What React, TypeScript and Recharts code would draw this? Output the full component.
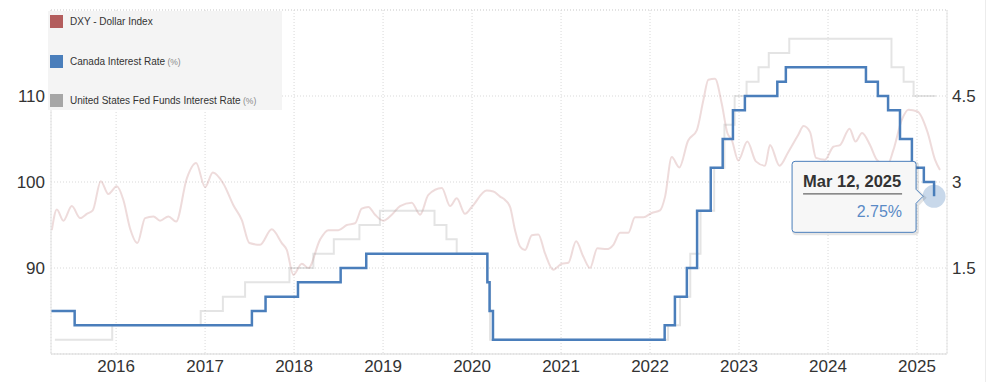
import React from 'react';
import { LineChart, Line, XAxis, YAxis, CartesianGrid, ReferenceLine } from 'recharts';

// ---------- data ----------
const xTicks = [2016, 2017, 2018, 2019, 2020, 2021, 2022, 2023, 2024, 2025];
const leftTicks = [90, 100, 110];
const rightTicks = [1.5, 3, 4.5];

const seriesNames = ['DXY - Dollar Index', 'Canada Interest Rate', 'United States Fed Funds Interest Rate'];
const seriesUnits = ['', '(%)', '(%)'];
const seriesColors = ['#b35d5d', '#4a7ebb', '#a6a6a6'];

// DXY (decimal years)
const dxyYears = [
  2015.278, 2015.334, 2015.408, 2015.502, 2015.596, 2015.671, 2015.738, 2015.828, 2015.913,
  2016.008, 2016.082, 2016.157, 2016.239, 2016.326, 2016.419, 2016.494, 2016.588, 2016.674, 2016.794, 2016.899,
  2017.0, 2017.087, 2017.206, 2017.318, 2017.412, 2017.498, 2017.618, 2017.749, 2017.862, 2017.918, 2017.992,
  2018.087, 2018.161, 2018.292, 2018.385, 2018.498, 2018.592, 2018.685, 2018.76, 2018.835, 2018.91,
  2019.003, 2019.098, 2019.191, 2019.322, 2019.416, 2019.509, 2019.66, 2019.753, 2019.828, 2019.921, 2019.997,
  2020.165, 2020.239, 2020.315, 2020.371, 2020.427, 2020.483, 2020.539, 2020.596, 2020.671, 2020.745, 2020.82, 2020.913,
  2021.008, 2021.082, 2021.169, 2021.251, 2021.326, 2021.408, 2021.513, 2021.588, 2021.663, 2021.756, 2021.831, 2021.925,
  2022.019, 2022.112, 2022.169, 2022.244, 2022.329, 2022.427, 2022.525, 2022.599, 2022.655, 2022.73, 2022.806, 2022.869, 2022.918, 2022.992,
  2023.093, 2023.189, 2023.292, 2023.348, 2023.455, 2023.554, 2023.666, 2023.725, 2023.798, 2023.865, 2023.966,
  2024.06, 2024.135, 2024.242, 2024.309, 2024.382, 2024.472, 2024.547, 2024.663, 2024.734, 2024.828, 2024.904,
  2025.006, 2025.118, 2025.202, 2025.258,
];
const dxyValues = [
  94.4, 96.8, 95.5, 97.2, 95.8, 96.3, 96.7, 100.1, 98.6,
  99.5, 97.9, 94.6, 92.9, 95.8, 96.0, 95.5, 96.0, 95.4, 100.4, 102.2,
  99.4, 101.1, 99.8, 97.3, 95.6, 92.9, 92.7, 94.5, 92.9, 92.1, 89.2,
  90.5, 90.0, 93.3, 94.4, 94.4, 95.0, 95.2, 96.9, 97.1, 96.2,
  95.5, 96.2, 97.2, 97.6, 96.2, 98.5, 99.3, 97.2, 98.1, 96.3, 97.1,
  99.0, 98.9, 98.3, 97.9, 97.1, 94.4, 92.5, 92.1, 93.8, 93.9, 91.7, 89.8,
  90.5, 90.6, 93.1, 91.3, 90.0, 92.3, 92.2, 92.7, 94.1, 94.1, 95.9, 95.9,
  96.4, 96.7, 98.3, 102.9, 101.7, 104.8, 106.0, 109.5, 111.9, 112.0, 109.1, 105.7, 104.9, 102.5,
  104.7, 102.4, 101.9, 104.3, 101.9, 103.5, 105.5, 106.5, 105.8, 102.8, 102.6,
  104.1, 104.3, 106.2, 104.7, 105.7, 104.3, 102.6, 101.9, 103.7, 107.2, 108.4,
  108.2, 105.8, 102.6, 101.4,
];

// Bank of Canada overnight rate decisions
const canadaDates = [
  '2015-04-09', '2015-07-15', '2017-07-12', '2017-09-06', '2018-01-17', '2018-07-11', '2018-10-24',
  '2020-03-04', '2020-03-13', '2020-03-27', '2022-03-02', '2022-04-13', '2022-06-01', '2022-07-13',
  '2022-09-07', '2022-10-26', '2022-12-07', '2023-01-25', '2023-06-07', '2023-07-12', '2024-06-05',
  '2024-07-24', '2024-09-04', '2024-10-23', '2024-12-11', '2025-01-29', '2025-03-12',
];
const canadaRates = [
  0.75, 0.5, 0.75, 1.0, 1.25, 1.5, 1.75,
  1.25, 0.75, 0.25, 0.5, 1.0, 1.5, 2.5,
  3.25, 3.75, 4.25, 4.5, 4.75, 5.0, 4.75,
  4.5, 4.25, 3.75, 3.25, 3.0, 2.75,
];

// US Fed funds (upper bound) decisions
const usDates = [
  '2015-04-25', '2015-12-16', '2016-12-14', '2017-03-15', '2017-06-14', '2017-12-13', '2018-03-21',
  '2018-06-13', '2018-09-26', '2018-12-19', '2019-07-31', '2019-09-18', '2019-10-30', '2020-03-03',
  '2020-03-15', '2022-03-16', '2022-05-04', '2022-06-15', '2022-07-27', '2022-09-21', '2022-11-02',
  '2022-12-14', '2023-02-01', '2023-03-22', '2023-05-03', '2023-07-26', '2024-09-18', '2024-11-07',
  '2024-12-18', '2025-03-19',
];
const usRates = [
  0.25, 0.5, 0.75, 1.0, 1.25, 1.5, 1.75,
  2.0, 2.25, 2.5, 2.25, 2.0, 1.75, 1.25,
  0.25, 0.5, 1.0, 1.75, 2.5, 3.25, 4.0,
  4.5, 4.75, 5.0, 5.25, 5.5, 5.0, 4.75,
  4.5, 4.5,
];

// ---------- helpers ----------
const MONTHS = ['Jan', 'Feb', 'Mar', 'Apr', 'May', 'Jun', 'Jul', 'Aug', 'Sep', 'Oct', 'Nov', 'Dec'];
function toYear(iso: string): number {
  const [y, m, d] = iso.split('-').map(Number);
  const start = Date.UTC(y, 0, 1);
  const end = Date.UTC(y + 1, 0, 1);
  return y + (Date.UTC(y, m - 1, d) - start) / (end - start);
}
function fmtDate(iso: string): string {
  const [y, m, d] = iso.split('-').map(Number);
  return `${MONTHS[m - 1]} ${d}, ${y}`;
}

const dxyData = dxyYears.map((x, i) => ({ x, v: dxyValues[i] }));
const canadaData = canadaDates.map((d, i) => ({ x: toYear(d), v: canadaRates[i], date: d }));
const usData = usDates.map((d, i) => ({ x: toYear(d), v: usRates[i] }));

const FONT = '"Liberation Sans", Arial, Helvetica, sans-serif';
const BLUE = '#4a7ebb';

const lastIdx = canadaData.length - 1;

const CanadaDot = (props: any) => {
  const { cx, cy, index } = props;
  if (index !== lastIdx || cx == null || cy == null) return <g key={`d${index}`} />;
  const p = canadaData[lastIdx];
  const L = cx - 142;
  const R = cx - 18;
  const T = cy - 35;
  const B = cy + 36;
  const tip = cx - 11;
  const path = `M${L + 3},${T} H${R - 3} Q${R},${T} ${R},${T + 3} V${cy - 7} L${tip},${cy} L${R},${cy + 7} V${B - 3} Q${R},${B} ${R - 3},${B} H${L + 3} Q${L},${B} ${L},${B - 3} V${T + 3} Q${L},${T} ${L + 3},${T} Z`;
  return (
    <g key={`d${index}`}>
      <circle cx={cx} cy={cy} r={11.5} fill={BLUE} fillOpacity={0.3} />
      <path d={path} transform="translate(1.5,1.5)" fill="none" stroke="rgba(0,0,0,0.10)" strokeWidth={3} />
      <path d={path} fill="#f7f7f7" stroke={BLUE} strokeWidth={1} />
      <text x={L + 11} y={cy - 9} fontFamily={FONT} fontSize={16.5} fontWeight="bold" fill="#333">
        {fmtDate(p.date)}
      </text>
      <line x1={L + 11} x2={R - 14} y1={cy - 2.5} y2={cy - 2.5} stroke="#666" strokeWidth={1.2} />
      <text x={R - 14} y={cy + 21} textAnchor="end" fontFamily={FONT} fontSize={16} fill="#5a8ac6">
        {`${p.v.toFixed(2)}%`}
      </text>
    </g>
  );
};

const LegendBox = () => (
  <div
    style={{
      position: 'absolute', left: 48, top: 11, width: 234, height: 99,
      background: '#f4f4f4', fontFamily: FONT,
    }}
  >
    {seriesNames.map((name, i) => (
      <div key={name} style={{ position: 'absolute', left: 2, top: 4 + i * 39.5, height: 13, display: 'flex', alignItems: 'center' }}>
        <div style={{ width: 13, height: 13, background: seriesColors[i] }} />
        <span style={{ marginLeft: 7, fontSize: 10, color: '#333', whiteSpace: 'nowrap' }}>
          {name}
          {seriesUnits[i] ? <span style={{ fontSize: 8.5, color: '#888' }}> {seriesUnits[i]}</span> : null}
        </span>
      </div>
    ))}
  </div>
);

export default function App() {
  return (
    <div style={{ position: 'absolute', left: 0, top: 0, width: 992, height: 382, background: '#fff', fontFamily: FONT }}>
      <LineChart width={992} height={382} margin={{ top: 10, right: 0, bottom: 0, left: 0 }}>
        <CartesianGrid yAxisId="left" stroke="#d9d9d9" strokeDasharray="1 2" />
        <XAxis
          type="number"
          dataKey="x"
          domain={[2015.27, 2025.337]}
          ticks={xTicks}
          height={28}
          tickLine={false}
          tickSize={0}
          tickMargin={6}
          axisLine={{ stroke: '#d9d9d9' }}
          tick={{ fontSize: 17, fill: '#333', fontFamily: FONT }}
        />
        <YAxis
          yAxisId="left"
          orientation="left"
          domain={[80, 120]}
          ticks={leftTicks}
          width={51}
          tickLine={false}
          tickSize={0}
          tickMargin={6}
          axisLine={{ stroke: '#e2e2e2' }}
          tick={{ fontSize: 17, fill: '#333', fontFamily: FONT }}
        />
        <YAxis
          yAxisId="right"
          orientation="right"
          domain={[0, 6]}
          ticks={rightTicks}
          width={45}
          tickLine={false}
          tickSize={0}
          tickMargin={5}
          axisLine={{ stroke: '#e4e4e4' }}
          tick={{ fontSize: 17, fill: '#333', fontFamily: FONT }}
        />
        <ReferenceLine yAxisId="left" y={120} stroke="#d9d9d9" strokeDasharray="1 2" />
        <Line
          yAxisId="left"
          data={dxyData}
          dataKey="v"
          type="monotone"
          stroke={seriesColors[0]}
          strokeOpacity={0.22}
          strokeWidth={2}
          dot={false}
          activeDot={false}
          isAnimationActive={false}
        />
        <Line
          yAxisId="right"
          data={usData}
          dataKey="v"
          type="stepAfter"
          stroke={seriesColors[2]}
          strokeOpacity={0.3}
          strokeWidth={2}
          dot={false}
          activeDot={false}
          isAnimationActive={false}
        />
        <Line
          yAxisId="right"
          data={canadaData}
          dataKey="v"
          type="stepAfter"
          stroke={BLUE}
          strokeWidth={2.5}
          dot={CanadaDot}
          activeDot={false}
          isAnimationActive={false}
        />
      </LineChart>
      <LegendBox />
      <div style={{ position: 'absolute', left: 985, top: 0, width: 1, height: 382, background: '#ececec' }} />
    </div>
  );
}
